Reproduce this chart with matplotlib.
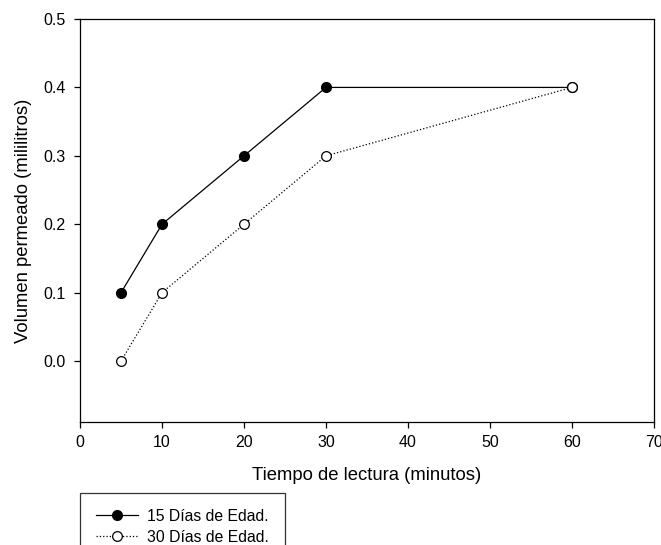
import matplotlib
matplotlib.use("Agg")
import matplotlib.pyplot as plt

plt.rcParams['font.family'] = ['Liberation Sans', 'DejaVu Sans']

tiempo = [5, 10, 20, 30, 60]
dias15 = [0.1, 0.2, 0.3, 0.4, 0.4]
dias30 = [0.0, 0.1, 0.2, 0.3, 0.4]
xticks = [0, 10, 20, 30, 40, 50, 60, 70]
yticks = [0.0, 0.1, 0.2, 0.3, 0.4, 0.5]

fig = plt.figure(figsize=(6.61, 5.45), dpi=100)
ax = fig.add_axes([80/661, 1-422/545, (654-80)/661, (422-19)/545])

l1, = ax.plot(tiempo, dias15, '-', color='black', lw=0.9, marker='o', ms=7,
              mfc='black', mec='black', label='15 Días de Edad.')
l2, = ax.plot(tiempo, dias30, ':', color='black', lw=0.9, marker='o', ms=7,
              mfc='white', mec='black', mew=0.9, label='30 Días de Edad.')

ax.set_xlim(0, 70)
ax.set_ylim(-0.089, 0.5)
ax.set_xticks(xticks)
ax.set_yticks(yticks)
ax.set_yticklabels([f"{v:.1f}" for v in yticks])
ax.tick_params(direction='out', length=4.5, width=0.9, labelsize=11.5, colors='black')
ax.tick_params(axis='x', pad=5)
ax.tick_params(axis='y', pad=6)
for s in ax.spines.values():
    s.set_linewidth(0.9)

ax.set_xlabel('Tiempo de lectura (minutos)', fontsize=13.3, labelpad=12)
ax.set_ylabel('Volumen permeado (mililitros)', fontsize=13.3, labelpad=8)

leg = fig.legend(handles=[l1, l2], loc='upper left',
                 bbox_to_anchor=(80/661, 1-493/545), fontsize=11.3,
                 frameon=True, fancybox=False, edgecolor='black',
                 handlelength=2.7, borderpad=1.0, labelspacing=0.38,
                 handletextpad=0.6, borderaxespad=0)
leg.get_frame().set_linewidth(0.9)

fig.savefig('out.png', dpi=100)
